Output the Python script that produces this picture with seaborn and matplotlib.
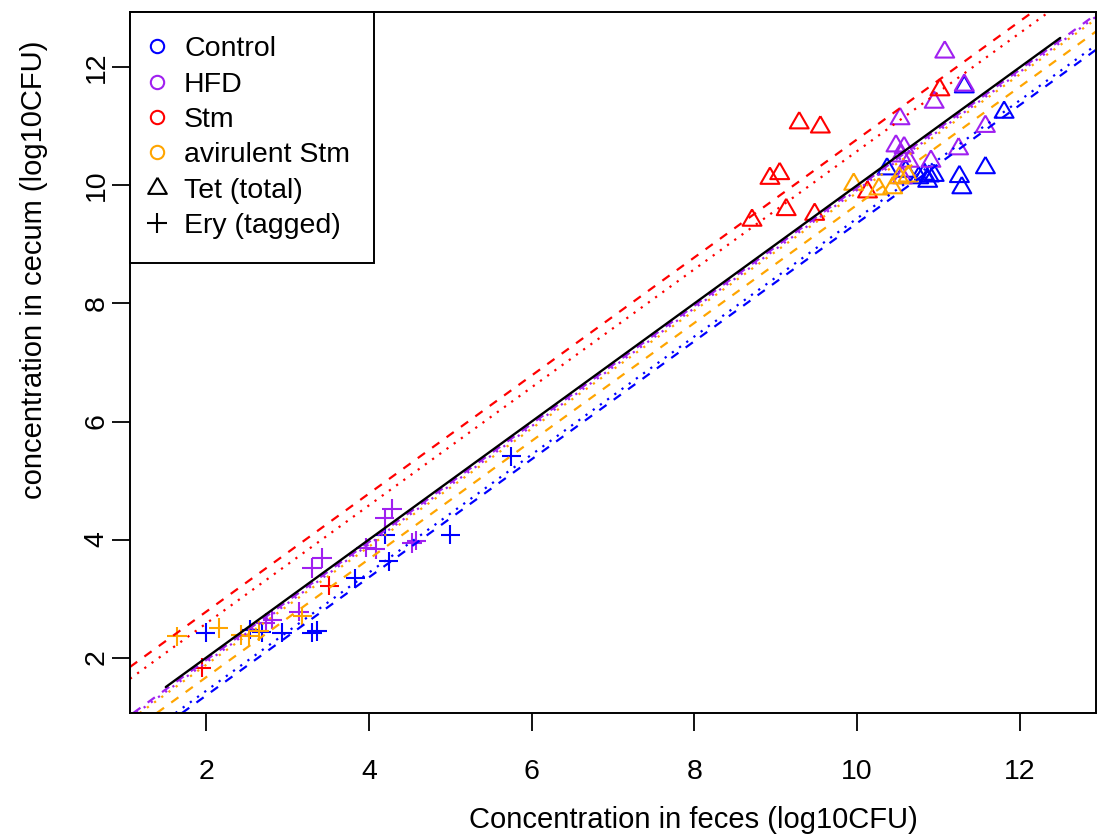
import matplotlib
matplotlib.use("Agg")
import pandas as pd
import matplotlib.pyplot as plt
from matplotlib.lines import Line2D
import seaborn as sns

# groups and their colours (R named colours blue / purple / red / orange)
groups = ["Control", "HFD", "Stm", "avirulent Stm"]
group_colors = ["#0000FF", "#A020F0", "#FF0000", "#FFA500"]

# Tet (total) counts, log10CFU: feces (x) vs cecum (y)
control_tet_feces = [10.37, 10.60, 10.76, 10.83, 10.89, 10.95, 10.87, 11.26, 11.29, 11.58, 11.81, 11.32]
control_tet_cecum = [10.28, 10.24, 10.13, 10.19, 10.16, 10.17, 10.07, 10.15, 9.96, 10.30, 11.24, 11.67]
hfd_tet_feces = [11.08, 10.48, 10.58, 10.53, 10.95, 11.32, 11.58, 11.25, 10.91, 10.64, 10.54, 10.56]
hfd_tet_cecum = [12.26, 10.67, 10.64, 11.13, 11.41, 11.70, 11.00, 10.62, 10.41, 10.41, 10.50, 10.13]
stm_tet_feces = [9.29, 9.55, 8.93, 9.05, 9.13, 8.71, 9.48, 10.13, 11.02]
stm_tet_cecum = [11.06, 10.99, 10.12, 10.20, 9.59, 9.41, 9.51, 9.89, 11.62]
avir_tet_feces = [9.96, 10.27, 10.44, 10.52, 10.63]
avir_tet_cecum = [10.02, 9.94, 9.96, 10.13, 10.16]

# Ery (tagged) counts
control_ery_feces = [1.99, 2.54, 2.68, 2.93, 3.30, 3.36, 3.83, 4.20, 4.24, 5.00, 5.75]
control_ery_cecum = [2.42, 2.47, 2.43, 2.42, 2.42, 2.45, 3.34, 4.08, 3.63, 4.08, 5.41]
hfd_ery_feces = [2.73, 2.81, 3.14, 3.30, 3.42, 3.96, 4.08, 4.19, 4.28, 4.53, 4.58]
hfd_ery_cecum = [2.59, 2.64, 2.78, 3.52, 3.69, 3.86, 3.84, 4.36, 4.52, 3.94, 3.98]
stm_ery_feces = [1.94, 3.51]
stm_ery_cecum = [1.83, 3.22]
avir_ery_feces = [1.64, 2.15, 2.42, 2.52, 2.65, 3.18]
avir_ery_cecum = [2.36, 2.50, 2.38, 2.36, 2.45, 2.70]

# per-group offsets of the slope-1 reference lines (dashed / dotted)
dashed_offsets = [-0.64, -0.04, 0.78, -0.33]
dotted_offsets = [-0.56, -0.08, 0.58, -0.12]
identity_range = [1.5, 12.5]

axis_limits = [1.06, 12.94]
tick_values = [2, 4, 6, 8, 10, 12]


def make_frame(parts, kind):
    rows = []
    for grp, (fx, cy) in zip(groups, parts):
        rows.append(pd.DataFrame({"feces": fx, "cecum": cy, "group": grp, "kind": kind}))
    return pd.concat(rows, ignore_index=True)


tet = make_frame([(control_tet_feces, control_tet_cecum), (hfd_tet_feces, hfd_tet_cecum),
                  (stm_tet_feces, stm_tet_cecum), (avir_tet_feces, avir_tet_cecum)], "Tet")
ery = make_frame([(control_ery_feces, control_ery_cecum), (hfd_ery_feces, hfd_ery_cecum),
                  (stm_ery_feces, stm_ery_cecum), (avir_ery_feces, avir_ery_cecum)], "Ery")

sns.set_theme(style="white")
plt.rcParams["font.family"] = ["Liberation Sans", "DejaVu Sans"]
plt.rcParams["text.color"] = "black"
plt.rcParams["axes.labelcolor"] = "black"
plt.rcParams["xtick.color"] = "black"
plt.rcParams["ytick.color"] = "black"

palette = dict(zip(groups, group_colors))
# R style open triangle (pch = 2)
tri = [(0, 1.555), (1.347, -0.778), (-1.347, -0.778), (0, 1.555)]

fig = plt.figure(figsize=(11.02, 8.4), dpi=100)
ax = fig.add_axes([130 / 1102, 1 - 713 / 840, 966 / 1102, 701 / 840])

sns.scatterplot(data=tet, x="feces", y="cecum", hue="group", palette=palette,
                marker=tri, s=245, linewidth=1.5, legend=False, ax=ax)
coll = ax.collections[-1]
fc = coll.get_facecolors()
coll.set_edgecolors(fc)
coll.set_facecolors("none")
coll.set_linewidths(1.5)

sns.scatterplot(data=ery, x="feces", y="cecum", hue="group", palette=palette,
                marker="+", s=195, linewidth=1.5, legend=False, ax=ax)

for c, off_d, off_t in zip(group_colors, dashed_offsets, dotted_offsets):
    ax.axline((0, off_d), slope=1, color=c, lw=1.6, linestyle=(0, (4, 4)))
    ax.axline((0, off_t), slope=1, color=c, lw=1.6, linestyle=(0, (1, 3)),
              dash_capstyle="butt")

sns.lineplot(x=identity_range, y=identity_range, color="black", lw=1.7, ax=ax)

ax.set_xlim(axis_limits)
ax.set_ylim(axis_limits)
ax.set_xticks(tick_values)
ax.set_yticks(tick_values)
ax.tick_params(axis="both", direction="out", length=13, width=1.3, color="black",
               labelsize=20.5, labelcolor="black", bottom=True, left=True)
ax.tick_params(axis="x", pad=20)
ax.tick_params(axis="y", pad=1.5, labelrotation=90)
for t in ax.get_yticklabels():
    t.set_va("center")
for s in ax.spines.values():
    s.set_color("black")
    s.set_linewidth(1.4)

ax.set_xlabel("Concentration in feces (log10CFU)", fontsize=21)
ax.set_ylabel("concentration in cecum (log10CFU)", fontsize=21)
ax.xaxis.set_label_coords((693 - 130) / 966, (713 - 806) / 701)
ax.yaxis.set_label_coords((48 - 130) / 966, (713 - 270) / 701)

handles = [Line2D([], [], linestyle="none", marker="o", markerfacecolor="none",
                  markeredgecolor=c, markeredgewidth=1.5, markersize=9.6) for c in group_colors]
handles.append(Line2D([], [], linestyle="none", marker=tri, markerfacecolor="none",
                      markeredgecolor="black", markeredgewidth=1.5, markersize=15.5))
handles.append(Line2D([], [], linestyle="none", marker="+", markeredgecolor="black",
                      markeredgewidth=1.5, markersize=14))
labels = groups + ["Tet (total)", "Ery (tagged)"]
leg = ax.legend(handles, labels, loc="upper left", bbox_to_anchor=(0, 1), borderaxespad=0,
                frameon=True, fancybox=False, edgecolor="black", framealpha=1, fontsize=20.5,
                handlelength=0.2, handletextpad=0.85, borderpad=0.85, labelspacing=0.33)
leg.get_frame().set_linewidth(1.4)

fig.savefig("out.png", dpi=100)
